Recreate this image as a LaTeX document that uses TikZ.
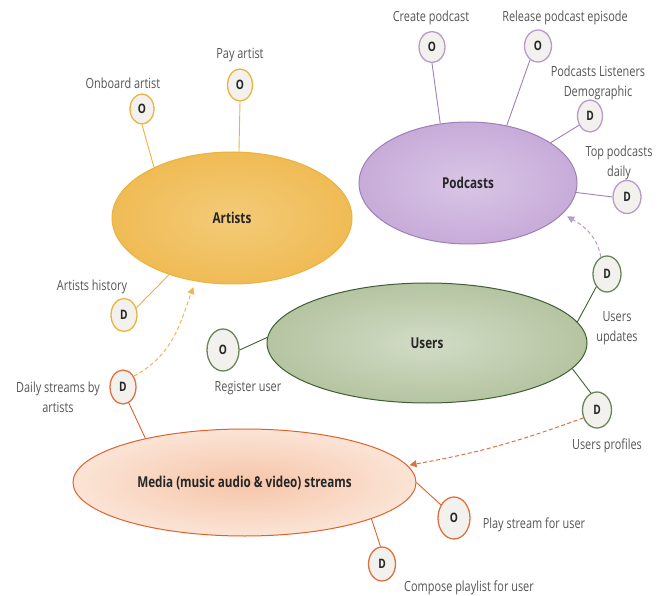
\documentclass[tikz,border=0pt]{standalone}
\usepackage{fontspec}
\setmainfont{Open Sans}[FakeStretch=0.78]
\usetikzlibrary{shapes.geometric,arrows.meta}
\definecolor{goldline}{HTML}{ECB23C}
\definecolor{goldin}{HTML}{F4CB78}
\definecolor{goldout}{HTML}{EFBB55}
\definecolor{purpline}{HTML}{9F80B8}
\definecolor{purpcirc}{HTML}{B89ACB}
\definecolor{purpin}{HTML}{D9C6E6}
\definecolor{purpout}{HTML}{C7ABD9}
\definecolor{greenline}{HTML}{3F5E33}
\definecolor{greencirc}{HTML}{6A8559}
\definecolor{greenin}{HTML}{D2DCC6}
\definecolor{greenout}{HTML}{B5C4A1}
\definecolor{orangeline}{HTML}{E0612A}
\definecolor{orangecirc}{HTML}{E0703F}
\definecolor{orangein}{HTML}{F6C5A8}
\definecolor{orangeout}{HTML}{FBE4D6}
\definecolor{lightorange}{HTML}{F2B35A}
\definecolor{circfill}{HTML}{F2F1EE}
\definecolor{labelgray}{HTML}{555555}
\begin{document}
\begin{tikzpicture}[x=1pt,y=-1pt,
  ent/.style={ellipse, inner sep=0pt, draw, line width=1pt,
    font=\fontsize{15}{18}\selectfont\bfseries, text=black!85},
  sm/.style={ellipse, inner sep=0pt, draw, fill=circfill, line width=1.3pt,
    font=\fontsize{13}{14}\selectfont\bfseries, text=black!85},
  smsmall/.style={sm, minimum width=26pt, minimum height=33pt},
  smbig/.style={sm, minimum width=32pt, minimum height=42pt},
  lbl/.style={font=\fontsize{14}{20}\selectfont, text=labelgray, align=center, inner sep=0pt},
  conn/.style={line width=0.9pt},
  dasharrow/.style={line width=1pt, dash pattern=on 4pt off 2.5pt,
    -{Triangle[length=7pt,width=7pt]}}]
\useasboundingbox (0,0) rectangle (667,596);

% entities
\node[ent, draw=goldline, inner color=goldin, outer color=goldout,
  minimum width=240pt, minimum height=132pt] (artists) at (232,218) {Artists};
\node[ent, draw=purpline, inner color=purpin, outer color=purpout,
  minimum width=218pt, minimum height=122pt] (podcasts) at (468,183) {Podcasts};
\node[ent, draw=greenline, inner color=greenin, outer color=greenout,
  minimum width=320pt, minimum height=120pt] (users) at (427,343) {Users};
\node[ent, draw=orangeline, inner color=orangein, outer color=orangeout,
  minimum width=343pt, minimum height=107pt] (media) at (244.5,482.5) {Media (music audio \& video) streams};

% artists circles
\node[smsmall, draw=goldline, minimum width=24pt, minimum height=30pt] (onb) at (142,109) {O};
\node[smsmall, draw=goldline, minimum width=25pt, minimum height=32pt] (pay) at (240,85) {O};
\node[smsmall, draw=goldline] (hist) at (124,315) {D};
% media circles
\node[smsmall, draw=orangecirc, minimum height=34pt] (daily) at (123,387) {D};
\node[smbig, draw=orangecirc] (play) at (454,518) {O};
\node[smsmall, draw=orangecirc, minimum width=27pt, minimum height=34pt] (comp) at (382,564) {D};
% users circles
\node[smbig, draw=greencirc] (reg) at (223,350) {O};
\node[smsmall, draw=greencirc, minimum width=28pt, minimum height=36pt] (uupd) at (607,274) {D};
\node[smsmall, draw=greencirc, minimum width=29pt, minimum height=36pt] (uprof) at (597,410) {D};
% podcasts circles
\node[smsmall, draw=purpcirc, minimum height=31pt] (create) at (432,47) {O};
\node[smsmall, draw=purpcirc, minimum width=27pt, minimum height=32pt] (rel) at (538,46) {O};
\node[smsmall, draw=purpcirc, minimum width=25pt, minimum height=32pt] (demo) at (590,116) {D};
\node[smsmall, draw=purpcirc, minimum width=28pt, minimum height=33pt] (topd) at (627,197) {D};

% labels
\node[lbl] (lonb) at (123,83) {Onboard artist};
\node[lbl] (lpay) at (240,55) {Pay artist};
\node[lbl] (lhist) at (92,287) {Artists history};
\node[lbl] (ldaily) at (58,397) {Daily streams by\\artists};
\node[lbl] (lreg) at (248,388) {Register user};
\node[lbl] (luupd) at (617,328) {Users\\updates};
\node[lbl] (luprof) at (607,446) {Users profiles};
\node[lbl] (lplay) at (534,525) {Play stream for user};
\node[lbl] (lcomp) at (469,588) {Compose playlist for user};
\node[lbl] (lcreate) at (431,18) {Create podcast};
\node[lbl] (lrel) at (565,18) {Release podcast episode};
\node[lbl] (ldemo) at (598,83) {Podcasts Listeners\\Demographic};
\node[lbl] (ltop) at (619,163) {Top podcasts\\daily};

% solid connectors
\draw[conn, goldline] (onb.south) -- (artists.147);
\draw[conn, goldline] (pay.south) -- (artists.84);
\draw[conn, goldline] (hist.30) -- (artists.222);
\draw[conn, orangeline] (daily.-70) -- (media.156.5);
\draw[conn, orangeline] (play.135) -- (media.0);
\draw[conn, orangeline] (comp.95) -- (media.344.5);
\draw[conn, greenline] (reg.east) -- (users.178);
\draw[conn, greenline] (uupd.230) -- (users.8.7);
\draw[conn, greenline] (uprof.110) -- (users.350);
\draw[conn, purpline] (create.south) -- (podcasts.115);
\draw[conn, purpline] (rel.240) -- (podcasts.56);
\draw[conn, purpline] (demo.220) -- (podcasts.26);
\draw[conn, purpline] (topd.west) -- (podcasts.-5);

% dashed arrows
\draw[dasharrow, lightorange, shorten >=6pt] (daily.45) to[out=28,in=250] (artists.240);
\draw[dasharrow, orangecirc, shorten >=2pt] (uprof.210) to[out=200,in=10] (media.6);
\draw[dasharrow, purpcirc, shorten >=5pt] (uupd.110) to[out=100,in=330] (podcasts.342);
\end{tikzpicture}
\end{document}
